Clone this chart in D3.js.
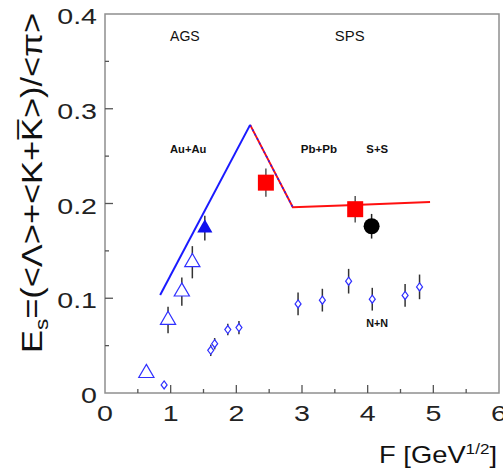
<!DOCTYPE html>
<html>
<head>
<meta charset="utf-8">
<script src="https://cdn.jsdelivr.net/npm/d3@7"></script>
<style>
  body { margin: 0; background: #fff; }
  text { font-family: "Liberation Sans", Arial, sans-serif; }
</style>
</head>
<body>
<svg id="chart" width="503" height="473"></svg>
<script>
// values
const lineBlueF = [0.84, 2.21];
const lineBlueE = [0.1035, 0.283];
const lineRedF = [2.21, 2.86, 3.6, 4.95];
const lineRedE = [0.283, 0.196, 0.198, 0.2015];

const openTriF = [0.63, 0.96, 1.17, 1.33];
const openTriE = [0.021, 0.077, 0.107, 0.138];
const openTriErr = [0.0, 0.014, 0.015, 0.017];

const fullTriF = [1.52];
const fullTriE = [0.174];
const fullTriErr = [0.013];

const squareF = [2.45, 3.81];
const squareE = [0.222, 0.194];
const squareErr = [0.015, 0.014];

const circleF = [4.06];
const circleE = [0.176];
const circleErr = [0.013];

const diamondF = [0.90, 1.61, 1.67, 1.87, 2.04, 2.94, 3.31, 3.71, 4.07, 4.57, 4.79];
const diamondE = [0.0085, 0.045, 0.052, 0.067, 0.069, 0.094, 0.098, 0.118, 0.099, 0.103, 0.112];
const diamondErr = [0.003, 0.006, 0.006, 0.006, 0.007, 0.012, 0.012, 0.013, 0.012, 0.012, 0.013];

const xTicks = [0, 1, 2, 3, 4, 5, 6];
const yTicks = [0, 0.1, 0.2, 0.3, 0.4];
const yTickText = ["0", "0.1", "0.2", "0.3", "0.4"];

const margin = {left: 105, top: 14, right: 4, bottom: 80};
const width = 503, height = 473;
const innerWidth = width - margin.left - margin.right;
const innerHeight = height - margin.top - margin.bottom;

const svg = d3.select('#chart');
const g = svg.append('g').attr('transform', 'translate(' + margin.left + ',' + margin.top + ')');

const xScale = d3.scaleLinear().domain([0, 6]).range([0, innerWidth]);
const yScale = d3.scaleLinear().domain([0, 0.4]).range([innerHeight, 0]);

// frame
g.append('rect')
  .attr('x', 0).attr('y', 0)
  .attr('width', innerWidth).attr('height', innerHeight)
  .style('fill', 'none').style('stroke', '#8f8f8f').style('stroke-width', 1.5);

// ticks pointing inwards
g.selectAll('.xmajor').data(xTicks.slice(1, -1)).enter().append('line')
  .attr('x1', d => xScale(d)).attr('x2', d => xScale(d))
  .attr('y1', innerHeight).attr('y2', innerHeight - 8)
  .style('stroke', '#555').style('stroke-width', 1.3);
g.selectAll('.xminor').data(d3.range(0.5, 6, 1)).enter().append('line')
  .attr('x1', d => xScale(d)).attr('x2', d => xScale(d))
  .attr('y1', innerHeight).attr('y2', innerHeight - 4)
  .style('stroke', '#555').style('stroke-width', 1.3);
g.selectAll('.ymajor').data(yTicks.slice(1, -1)).enter().append('line')
  .attr('x1', 0).attr('x2', 8)
  .attr('y1', d => yScale(d)).attr('y2', d => yScale(d))
  .style('stroke', '#555').style('stroke-width', 1.3);
g.selectAll('.yminor').data(d3.range(0.05, 0.4, 0.1)).enter().append('line')
  .attr('x1', 0).attr('x2', 4)
  .attr('y1', d => yScale(d)).attr('y2', d => yScale(d))
  .style('stroke', '#555').style('stroke-width', 1.3);

// tick labels (the original glyphs are wide, so stretch them a little)
g.selectAll('.xlab').data(xTicks).enter().append('text')
  .attr('transform', d => 'translate(' + xScale(d) + ',' + (innerHeight + 28) + ') scale(1.3,1)')
  .attr('text-anchor', 'middle')
  .style('font-size', '22px').style('fill', '#222')
  .text(d => d);
g.selectAll('.ylab').data(yTicks).enter().append('text')
  .attr('transform', d => 'translate(-8,' + (yScale(d) + 10) + ') scale(1.3,1)')
  .attr('text-anchor', 'end')
  .style('font-size', '22px').style('fill', '#222')
  .text((d, i) => yTickText[i]);

// axis titles
const xt = g.append('text')
  .attr('x', innerWidth - 120).attr('y', innerHeight + 70)
  .attr('textLength', 118).attr('lengthAdjust', 'spacingAndGlyphs')
  .style('font-size', '24px').style('fill', '#111');
xt.append('tspan').text('F [GeV');
xt.append('tspan').attr('dy', -9).style('font-size', '15px').text('1/2');
xt.append('tspan').attr('dy', 9).text(']');

const yt = svg.append('text')
  .attr('transform', 'translate(42,353) rotate(-90)')
  .attr('textLength', 340).attr('lengthAdjust', 'spacingAndGlyphs')
  .style('font-size', '29px').style('fill', '#111');
yt.append('tspan').text('E');
yt.append('tspan').attr('dy', 6).style('font-size', '19px').text('s');
yt.append('tspan').attr('dy', -6).text('=(<Λ>+<K+K\u0305>)/<π>');

// region labels
const labels = [
  {t: 'AGS', f: 0.99, e: 0.372, s: 15},
  {t: 'SPS', f: 3.5, e: 0.372, s: 15},
  {t: 'Au+Au', f: 0.99, e: 0.253, s: 11},
  {t: 'Pb+Pb', f: 2.98, e: 0.253, s: 11},
  {t: 'S+S', f: 3.98, e: 0.253, s: 11},
  {t: 'N+N', f: 3.98, e: 0.070, s: 11}
];
g.selectAll('.reg').data(labels).enter().append('text')
  .attr('x', d => xScale(d.f)).attr('y', d => yScale(d.e))
  .attr('textLength', d => d.t.length * d.s * 0.66)
  .attr('lengthAdjust', 'spacingAndGlyphs')
  .style('font-size', d => d.s + 'px').style('fill', '#111')
  .style('font-weight', d => d.s < 13 ? 'bold' : 'normal')
  .text(d => d.t);

// model lines
const line = d3.line().x(d => xScale(d[0])).y(d => yScale(d[1]));
const bluePts = lineBlueF.map((f, i) => [f, lineBlueE[i]]);
const redPts = lineRedF.map((f, i) => [f, lineRedE[i]]);
g.append('path').datum(redPts).attr('d', line)
  .style('fill', 'none').style('stroke', '#ff1010').style('stroke-width', 2);
g.append('path').datum(redPts.slice(0, 2)).attr('d', line)
  .style('fill', 'none').style('stroke', '#2020ff').style('stroke-width', 1.5)
  .style('stroke-dasharray', '2,3');
g.append('path').datum(bluePts).attr('d', line)
  .style('fill', 'none').style('stroke', '#1a1aff').style('stroke-width', 2);

// error bars
function errBars(fs, es, errs, color) {
  g.selectAll(null).data(fs).enter().append('line')
    .attr('x1', d => xScale(d)).attr('x2', d => xScale(d))
    .attr('y1', (d, i) => yScale(es[i] - errs[i]))
    .attr('y2', (d, i) => yScale(es[i] + errs[i]))
    .style('stroke', color).style('stroke-width', 1.5);
}
errBars(openTriF, openTriE, openTriErr, '#333');
errBars(fullTriF, fullTriE, fullTriErr, '#333');
errBars(squareF, squareE, squareErr, '#555');
errBars(circleF, circleE, circleErr, '#222');
errBars(diamondF, diamondE, diamondErr, '#333');

// markers
const tri = d3.symbol().type(d3.symbolTriangle).size(100);
g.selectAll('.otri').data(openTriF).enter().append('path')
  .attr('d', tri)
  .attr('transform', (d, i) => 'translate(' + xScale(d) + ',' + yScale(openTriE[i]) + ')')
  .style('fill', '#fff').style('stroke', '#3030ff').style('stroke-width', 1.2);
g.selectAll('.ftri').data(fullTriF).enter().append('path')
  .attr('d', tri)
  .attr('transform', (d, i) => 'translate(' + xScale(d) + ',' + yScale(fullTriE[i]) + ')')
  .style('fill', '#1010ee');
g.selectAll('.sq').data(squareF).enter().append('rect')
  .attr('x', d => xScale(d) - 8).attr('y', (d, i) => yScale(squareE[i]) - 8)
  .attr('width', 16).attr('height', 16)
  .style('fill', '#ff0000');
g.selectAll('.circ').data(circleF).enter().append('circle')
  .attr('cx', d => xScale(d)).attr('cy', (d, i) => yScale(circleE[i]))
  .attr('r', 8).style('fill', '#000');
g.selectAll('.dia').data(diamondF).enter().append('path')
  .attr('d', 'M0,-4L3,0L0,4L-3,0Z')
  .attr('transform', (d, i) => 'translate(' + xScale(d) + ',' + yScale(diamondE[i]) + ')')
  .style('fill', '#fff').style('stroke', '#3030ff').style('stroke-width', 1.2);
</script>
</body>
</html>
